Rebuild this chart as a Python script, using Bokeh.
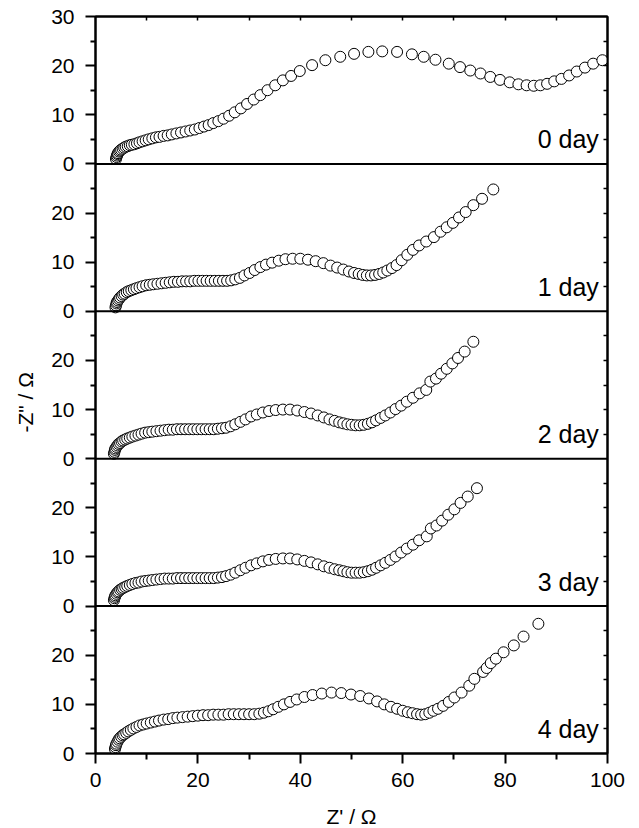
from bokeh.plotting import figure
from bokeh.models import Range1d, FixedTicker, LinearAxis, Label, Span, Title
from bokeh.embed import file_html
from bokeh.resources import INLINE

FONT = "Liberation Sans"

day_labels = ["0 day", "1 day", "2 day", "3 day", "4 day"]

x0 = [4.0, 4.1, 4.2, 4.3, 4.4, 4.6, 4.8, 5.0, 5.3, 5.6,
      5.9, 6.3, 6.7, 7.1, 7.6, 8.1, 8.6, 9.2, 9.8, 10.4,
      11.1, 11.8, 12.5, 13.3, 14.1, 14.9, 15.8, 16.7, 17.6, 18.5,
      19.4, 20.3, 21.2, 22.1, 23.0, 24.0, 25.0, 26.1, 27.2, 28.4,
      29.6, 30.9, 32.2, 33.6, 35.1, 36.6, 38.2, 39.9, 42.3, 44.9,
      47.8, 50.5, 53.3, 56.0, 58.9, 61.8, 64.1, 66.4, 69.0, 71.2,
      73.2, 75.2, 77.1, 79.0, 80.9, 82.6, 84.2, 85.6, 86.9, 88.2,
      89.6, 91.0, 92.5, 94.0, 95.6, 97.2, 99.0, 101.0]
y0 = [1.0, 1.4, 1.7, 2.0, 2.2, 2.5, 2.7, 2.9, 3.1, 3.3,
      3.5, 3.6, 3.8, 3.9, 4.0, 4.2, 4.4, 4.6, 4.8, 5.0,
      5.2, 5.4, 5.5, 5.7, 5.8, 6.0, 6.2, 6.4, 6.6, 6.8,
      7.0, 7.3, 7.6, 7.9, 8.3, 8.7, 9.2, 9.8, 10.5, 11.3,
      12.2, 13.1, 14.0, 15.0, 16.0, 17.0, 17.9, 18.9, 20.1, 21.1,
      21.8, 22.4, 22.8, 22.9, 22.8, 22.3, 21.8, 21.2, 20.4, 19.7,
      19.0, 18.4, 17.7, 17.1, 16.6, 16.2, 16.0, 15.9, 16.0, 16.3,
      16.8, 17.3, 18.0, 18.8, 19.6, 20.4, 21.1, 21.9]

x1 = [3.9, 4.0, 4.1, 4.2, 4.4, 4.6, 4.8, 5.1, 5.4, 5.7,
      6.1, 6.5, 7.0, 7.5, 8.0, 8.6, 9.2, 9.9, 10.6, 11.3,
      12.1, 12.9, 13.7, 14.5, 15.3, 16.1, 16.9, 17.7, 18.5, 19.3,
      20.1, 20.9, 21.7, 22.5, 23.3, 24.1, 24.9, 25.7, 26.5, 27.3,
      28.2, 29.1, 30.1, 31.1, 32.2, 33.3, 34.5, 35.8, 37.1, 38.5,
      40.0, 41.5, 43.0, 44.5, 45.9, 47.2, 48.4, 49.5, 50.5, 51.4,
      52.2, 53.0, 53.8, 54.6, 55.4, 56.2, 57.0, 57.9, 58.8, 59.8,
      60.9, 62.0, 63.2, 64.6, 66.1, 67.4, 68.6, 69.8, 71.0, 72.3,
      73.8, 75.5, 77.7]
y1 = [0.8, 1.2, 1.6, 1.9, 2.2, 2.5, 2.8, 3.1, 3.4, 3.6,
      3.9, 4.1, 4.3, 4.5, 4.7, 4.9, 5.1, 5.3, 5.4, 5.5,
      5.6, 5.7, 5.8, 5.9, 6.0, 6.0, 6.1, 6.1, 6.1, 6.2,
      6.2, 6.2, 6.2, 6.2, 6.2, 6.2, 6.2, 6.2, 6.3, 6.5,
      6.8, 7.3, 7.8, 8.4, 9.0, 9.5, 9.9, 10.3, 10.6, 10.7,
      10.7, 10.5, 10.2, 9.8, 9.3, 8.9, 8.5, 8.1, 7.8, 7.6,
      7.4, 7.3, 7.3, 7.4, 7.6, 7.9, 8.3, 8.8, 9.4, 10.4,
      11.5, 12.5, 13.4, 14.2, 15.1, 16.2, 17.1, 18.0, 19.1, 20.2,
      21.6, 22.9, 24.8]

x2 = [3.6, 3.7, 3.8, 3.9, 4.1, 4.3, 4.5, 4.8, 5.1, 5.4,
      5.8, 6.2, 6.7, 7.2, 7.8, 8.4, 9.0, 9.7, 10.4, 11.1,
      11.9, 12.7, 13.5, 14.3, 15.1, 15.9, 16.7, 17.5, 18.3, 19.1,
      19.9, 20.7, 21.5, 22.3, 23.1, 23.9, 24.7, 25.5, 26.4, 27.3,
      28.3, 29.3, 30.4, 31.5, 32.7, 33.9, 35.2, 36.6, 38.0, 39.4,
      40.8, 42.1, 43.4, 44.6, 45.7, 46.7, 47.6, 48.4, 49.2, 50.0,
      50.8, 51.6, 52.4, 53.2, 54.0, 54.8, 55.7, 56.6, 57.6, 58.6,
      59.7, 60.8, 62.0, 63.3, 64.6, 65.4, 66.5, 67.5, 68.6, 69.7,
      70.8, 72.1, 73.8]
y2 = [1.0, 1.4, 1.8, 2.1, 2.4, 2.7, 3.0, 3.2, 3.5, 3.7,
      3.9, 4.1, 4.3, 4.5, 4.7, 4.9, 5.1, 5.3, 5.4, 5.5,
      5.6, 5.7, 5.8, 5.9, 5.9, 6.0, 6.0, 6.0, 6.0, 6.0,
      6.0, 6.0, 6.0, 6.0, 6.0, 6.1, 6.2, 6.3, 6.6, 7.0,
      7.5, 8.0, 8.6, 9.0, 9.4, 9.7, 9.9, 10.0, 10.0, 9.8,
      9.5, 9.2, 8.8, 8.4, 8.0, 7.7, 7.4, 7.2, 7.0, 6.9,
      6.8, 6.8, 6.9, 7.1, 7.4, 7.8, 8.3, 8.8, 9.4, 10.1,
      10.8, 11.6, 12.4, 13.3, 14.0, 15.7, 16.3, 17.3, 18.3, 19.4,
      20.5, 21.8, 23.8]

x3 = [3.6, 3.7, 3.8, 3.9, 4.1, 4.3, 4.5, 4.8, 5.1, 5.4,
      5.8, 6.2, 6.7, 7.2, 7.8, 8.4, 9.0, 9.7, 10.4, 11.1,
      11.9, 12.7, 13.5, 14.3, 15.1, 15.9, 16.7, 17.5, 18.3, 19.1,
      19.9, 20.7, 21.5, 22.3, 23.1, 23.9, 24.7, 25.5, 26.4, 27.3,
      28.3, 29.3, 30.4, 31.5, 32.7, 33.9, 35.2, 36.6, 38.0, 39.4,
      40.8, 42.1, 43.4, 44.6, 45.7, 46.7, 47.6, 48.4, 49.2, 50.0,
      50.8, 51.6, 52.4, 53.2, 54.0, 54.8, 55.7, 56.6, 57.6, 58.6,
      59.7, 60.8, 62.0, 63.2, 64.7, 65.5, 66.6, 67.7, 68.9, 70.1,
      71.3, 72.7, 74.5]
y3 = [1.2, 1.6, 1.9, 2.2, 2.5, 2.8, 3.0, 3.3, 3.5, 3.7,
      3.9, 4.1, 4.3, 4.5, 4.7, 4.8, 5.0, 5.1, 5.2, 5.3,
      5.4, 5.5, 5.6, 5.6, 5.6, 5.7, 5.7, 5.7, 5.7, 5.7,
      5.7, 5.7, 5.7, 5.7, 5.7, 5.8, 5.9, 6.1, 6.4, 6.8,
      7.3, 7.8, 8.3, 8.7, 9.1, 9.4, 9.6, 9.7, 9.7, 9.5,
      9.2, 8.9, 8.5, 8.1, 7.8, 7.5, 7.3, 7.1, 6.9, 6.8,
      6.8, 6.8, 6.9, 7.1, 7.4, 7.8, 8.3, 8.8, 9.4, 10.1,
      10.9, 11.7, 12.5, 13.4, 14.2, 15.8, 16.4, 17.4, 18.6, 19.7,
      21.0, 22.3, 24.0]

x4 = [3.8, 3.9, 4.0, 4.1, 4.3, 4.5, 4.7, 5.0, 5.3, 5.6,
      6.0, 6.4, 6.9, 7.4, 8.0, 8.6, 9.3, 10.0, 10.8, 11.6,
      12.4, 13.3, 14.2, 15.1, 16.0, 17.0, 18.0, 19.0, 20.0, 21.0,
      22.0, 23.0, 24.0, 25.0, 26.0, 27.0, 28.0, 29.0, 30.0, 31.0,
      32.0, 32.9, 33.8, 34.7, 35.7, 36.8, 38.0, 39.3, 40.8, 42.4,
      44.2, 46.1, 48.0, 49.9, 51.7, 53.4, 55.0, 56.4, 57.7, 58.9,
      60.0, 61.0, 61.9, 62.8, 63.6, 64.4, 65.2, 66.0, 66.9, 67.9,
      69.0, 70.1, 71.5, 73.0, 74.0, 75.7, 76.4, 77.2, 78.2, 79.7,
      81.7, 83.6, 86.5]
y4 = [0.9, 1.3, 1.7, 2.0, 2.4, 2.8, 3.1, 3.4, 3.7, 3.9,
      4.2, 4.5, 4.8, 5.1, 5.4, 5.7, 5.9, 6.1, 6.3, 6.5,
      6.7, 6.9, 7.0, 7.2, 7.3, 7.4, 7.5, 7.6, 7.7, 7.8,
      7.8, 7.9, 7.9, 7.9, 8.0, 8.0, 8.0, 8.0, 8.0, 8.0,
      8.1, 8.3, 8.6, 9.0, 9.5, 10.0, 10.5, 11.0, 11.5, 11.9,
      12.2, 12.4, 12.3, 12.0, 11.7, 11.2, 10.6, 10.0, 9.5, 9.1,
      8.7, 8.4, 8.2, 8.0, 7.9, 8.0, 8.3, 8.7, 9.1, 9.7,
      10.5, 11.4, 12.4, 13.8, 15.2, 16.6, 17.4, 18.4, 19.3, 20.6,
      22.0, 23.8, 26.4]

series = [(x0, y0), (x1, y1), (x2, y2), (x3, y3), (x4, y4)]
for xs, ys in series:
    assert len(xs) == len(ys), (len(xs), len(ys))

x_ticks = [0, 20, 40, 60, 80, 100]
x_minor = [10, 30, 50, 70, 90]
panel_span = 30  # each panel shows -Z'' from 0 to 30
n = len(series)

p = figure(frame_width=512, frame_height=737,
           min_border_left=95, min_border_right=32,
           min_border_top=16, min_border_bottom=75,
           x_range=Range1d(0, 100), y_range=Range1d(0, panel_span * n),
           x_axis_location=None, y_axis_location=None,
           output_backend="svg", toolbar_location=None)
p.background_fill_color = "white"
p.border_fill_color = "white"
p.outline_line_color = "black"
p.outline_line_width = 2
p.grid.visible = False

# one y range per stacked panel (panel 0 on top)
for i in range(n):
    lvl = n - 1 - i
    p.extra_y_ranges[f"p{i}"] = Range1d(-panel_span * lvl, panel_span * (n - lvl))

# left axis: labels restart in every panel
left_ticks = list(range(0, panel_span * n + 1, 10))
left_minor = list(range(5, panel_span * n, 10))
overrides = {}
for t in left_ticks:
    v = t % panel_span
    if t == panel_span * n:
        v = panel_span
    overrides[t] = str(v)
ya = LinearAxis(ticker=FixedTicker(ticks=left_ticks, minor_ticks=left_minor),
                major_label_overrides=overrides)
ya.major_tick_out = 10
ya.major_tick_in = 0
ya.minor_tick_out = 5
ya.minor_tick_in = 0
ya.axis_line_width = 2
ya.major_tick_line_width = 2
ya.minor_tick_line_width = 2
ya.major_label_text_font = FONT
ya.major_label_text_font_size = "21px"
ya.major_label_text_color = "black"
ya.major_label_standoff = 11
p.add_layout(ya, "left")

# y axis title
p.add_layout(Title(text='-Z" / \u03a9', align="left", offset=321,
                   vertical_align="middle", standoff=22,
                   text_font=FONT, text_font_size="21px",
                   text_font_style="normal", text_color="black"), "left")

# right axis: small inward ticks
right_ticks = [t for t in range(5, panel_span * n, 5) if t % panel_span != 0]
ra = LinearAxis(ticker=FixedTicker(ticks=right_ticks, minor_ticks=[]),
                major_label_overrides={t: "" for t in right_ticks})
ra.major_tick_in = 4
ra.major_tick_out = 0
ra.axis_line_width = 2
ra.major_tick_line_width = 1.5
ra.major_label_text_font_size = "0px"
ra.major_label_standoff = 0
p.add_layout(ra, "right")

# top axis: small inward ticks
top_ticks = list(range(10, 100, 10))
ta = LinearAxis(ticker=FixedTicker(ticks=top_ticks, minor_ticks=[]),
                major_label_overrides={t: "" for t in top_ticks})
ta.major_tick_in = 4
ta.major_tick_out = 0
ta.axis_line_width = 2
ta.major_tick_line_width = 1.5
ta.major_label_text_font_size = "0px"
ta.major_label_standoff = 0
p.add_layout(ta, "above")

# bottom axis
xa = LinearAxis(ticker=FixedTicker(ticks=x_ticks, minor_ticks=x_minor),
                axis_label="Z' / \u03a9")
xa.major_tick_out = 10
xa.major_tick_in = 0
xa.minor_tick_out = 6
xa.minor_tick_in = 0
xa.axis_line_width = 2
xa.major_tick_line_width = 2
xa.minor_tick_line_width = 2
xa.major_label_text_font = FONT
xa.major_label_text_font_size = "21px"
xa.major_label_text_color = "black"
xa.major_label_standoff = 9
xa.axis_label_text_font = FONT
xa.axis_label_text_font_size = "21px"
xa.axis_label_text_font_style = "normal"
xa.axis_label_text_color = "black"
xa.axis_label_standoff = 15
p.add_layout(xa, "below")

# panel dividers
for k in range(1, n):
    p.add_layout(Span(location=panel_span * k, dimension="width",
                      line_color="black", line_width=2))

for i, (xs, ys) in enumerate(series):
    p.scatter(x=xs, y=ys, y_range_name=f"p{i}", marker="circle", size=11,
              fill_color="white", line_color="black", line_width=1)
    p.add_layout(Label(x=98.3, y=5.0, y_range_name=f"p{i}", text=day_labels[i],
                       text_align="right", text_baseline="alphabetic",
                       text_font=FONT, text_font_size="25px", text_color="black"))

open("out.html", "w").write(file_html(p, INLINE))
